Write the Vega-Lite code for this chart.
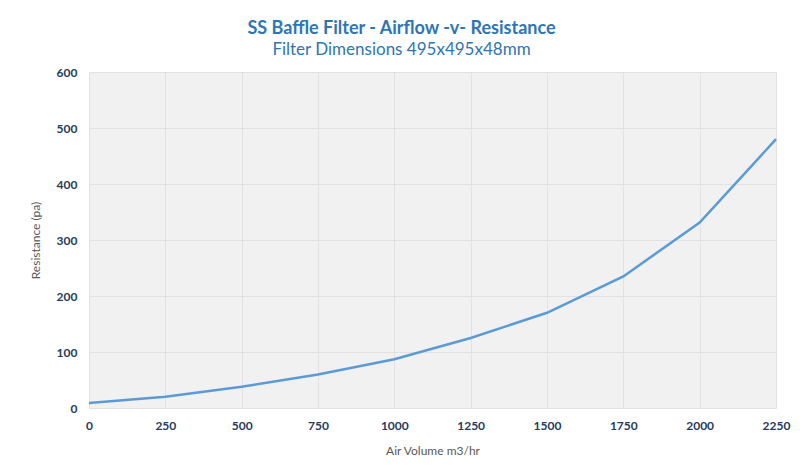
{
  "$schema": "https://vega.github.io/schema/vega-lite/v6.json",
  "width": 687,
  "height": 336,
  "autosize": {"type": "none"},
  "padding": {"left": 89, "top": 72, "right": 28, "bottom": 59},
  "background": "white",
  "title": {
    "text": "SS Baffle Filter - Airflow -v- Resistance",
    "subtitle": "Filter Dimensions 495x495x48mm",
    "anchor": "middle",
    "dx": -31,
    "offset": 8,
    "font": "Lato",
    "fontSize": 18,
    "fontWeight": "bold",
    "color": "#2e75b6",
    "subtitleFont": "Lato",
    "subtitleFontSize": 17,
    "subtitleColor": "#2e75b6",
    "subtitlePadding": 4
  },
  "config": {
    "view": {"fill": "#f1f1f1", "stroke": null},
    "axis": {
      "labelFont": "Lato",
      "labelFontSize": 12,
      "labelFontWeight": "bold",
      "labelColor": "#263a5e",
      "titleFont": "Lato",
      "titleFontSize": 12,
      "titleFontWeight": "normal",
      "titleColor": "#595959",
      "gridColor": "#e2e2e2",
      "gridWidth": 1,
      "domain": false,
      "ticks": false
    }
  },
  "data": {
    "values": [
      {"air": 0, "res": 9},
      {"air": 250, "res": 20},
      {"air": 500, "res": 38},
      {"air": 750, "res": 60},
      {"air": 1000, "res": 87},
      {"air": 1250, "res": 125},
      {"air": 1500, "res": 170},
      {"air": 1750, "res": 235},
      {"air": 2000, "res": 331},
      {"air": 2250, "res": 480}
    ]
  },
  "mark": {"type": "line", "color": "#5b9bd5", "strokeWidth": 2.5},
  "encoding": {
    "x": {
      "field": "air",
      "type": "quantitative",
      "title": "Air Volume m3/hr",
      "scale": {"domain": [0, 2250], "nice": false},
      "axis": {"values": [0, 250, 500, 750, 1000, 1250, 1500, 1750, 2000, 2250], "format": "d", "labelPadding": 12, "titlePadding": 14, "labelFlush": false}
    },
    "y": {
      "field": "res",
      "type": "quantitative",
      "title": "Resistance (pa)",
      "scale": {"domain": [0, 600], "nice": false},
      "axis": {"values": [0, 100, 200, 300, 400, 500, 600], "labelPadding": 12, "titlePadding": 14}
    }
  }
}
